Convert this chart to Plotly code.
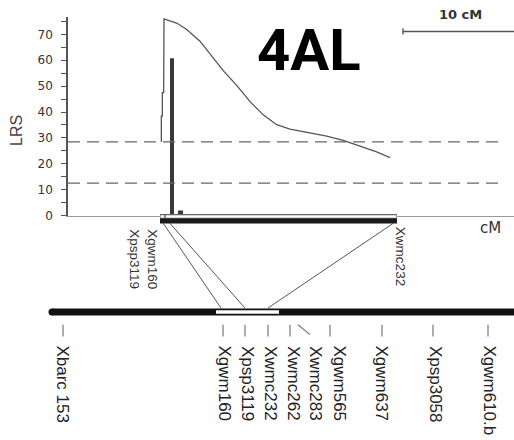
import plotly.graph_objects as go

# ---------------- data ----------------
# LRS profile along the 4AL QTL interval (cM on the QTL map)
lrs_cm = [0.12, 0.12, 0.21, 0.21, 0.33, 0.36, 1.50, 2.41, 3.60, 4.66, 5.70, 6.91, 8.11,
          9.30, 10.51, 11.71, 13.22, 15.02, 16.51, 18.31, 19.52, 20.72]
lrs_val = [28.5, 38.4, 38.4, 47.5, 47.5, 76.0, 74.4, 71.9, 67.4, 61.8, 56.0, 50.3, 44.0,
           38.9, 35.1, 33.4, 32.3, 30.7, 29.0, 26.2, 24.6, 22.4]

thresholds = [28.5, 12.5]          # LRS significance thresholds (dashed)

qtl_bar_cm = [1.08, 1.85]          # peak bars
qtl_bar_lrs = [60.8, 1.9]

top_markers = ["Xgwm160", "Xpsp3119", "Xwmc232"]
top_pos = [0.3, 0.9, 21.0]          # cM on QTL map
top_interval = [0.0, 21.35]

low_markers = ["Xbarc 153", "Xgwm160", "Xpsp3119", "Xwmc232", "Xwmc262", "Xwmc283",
               "Xgwm565", "Xgwm637", "Xpsp3058", "Xgwm610.b"]
low_pos = [0.0, 64.0, 72.8, 82.0, 90.8, 94.0, 106.8, 127.6, 148.0, 170.0]
low_interval = [61.2, 86.4]

scale_cm = 10
y_ticks = [0, 10, 20, 30, 40, 50, 60, 70]

# ---------------- layout geometry ----------------
W, H = 514, 440
TOP_PX0, TOP_PPC = 160.0, 11.1     # pixel of 0 cM, pixels per cM (upper map)
LOW_PX0, LOW_PPC = 63.0, 2.5       # lower consensus map
AX_LEFT, AX_TOP, AX_BOT = 68, 17, 219
LRS_PPU = 2.629

def t2l(cm):
    return (TOP_PX0 + TOP_PPC * cm - LOW_PX0) / LOW_PPC

def lpx(px):
    return (px - LOW_PX0) / LOW_PPC

def tpx(px):
    return (px - TOP_PX0) / TOP_PPC

x_rng = [tpx(AX_LEFT), tpx(W)]
y_rng = [0, (AX_BOT - AX_TOP) / LRS_PPU]

fig = go.Figure()

# dashed thresholds
for t in thresholds:
    fig.add_trace(go.Scatter(x=[tpx(AX_LEFT), tpx(500)], y=[t, t], mode="lines",
                             line=dict(color="#666", width=1.3, dash="12px,7px"),
                             xaxis="x", yaxis="y", hoverinfo="skip"))

# LRS curve
fig.add_trace(go.Scatter(x=lrs_cm, y=lrs_val, mode="lines",
                         line=dict(color="#555", width=1.3),
                         xaxis="x", yaxis="y"))

# QTL bars
fig.add_trace(go.Bar(x=qtl_bar_cm, y=qtl_bar_lrs, width=[4 / TOP_PPC, 5 / TOP_PPC],
                     marker=dict(color="#383838", line=dict(width=0)),
                     xaxis="x", yaxis="y"))

# scale bar (10 cM)
sb0 = tpx(403)
sy = (AX_BOT - 32) / LRS_PPU
fig.add_trace(go.Scatter(x=[sb0, sb0 + scale_cm, None, sb0, sb0],
                         y=[sy, sy, None, (AX_BOT - 29) / LRS_PPU, (AX_BOT - 35) / LRS_PPU],
                         mode="lines", line=dict(color="#555", width=1.4),
                         xaxis="x", yaxis="y", hoverinfo="skip"))

# upper map interval bar (x3 / y2)
i0, i1 = top_interval
fig.add_trace(go.Scatter(x=[i0, i1], y=[220, 220], mode="lines",
                         line=dict(color="#666", width=5), xaxis="x3", yaxis="y2"))
fig.add_trace(go.Scatter(x=[i0 + 0.05, i1 - 0.05], y=[220, 220], mode="lines",
                         line=dict(color="#fff", width=2.5), xaxis="x3", yaxis="y2"))
fig.add_trace(go.Scatter(x=[i0, i1], y=[224.5, 224.5], mode="lines",
                         line=dict(color="#1a1a1a", width=5), xaxis="x3", yaxis="y2"))
fig.add_trace(go.Scatter(x=[tpx(165), tpx(165)], y=[218, 222.5], mode="lines",
                         line=dict(color="#444", width=1.2), xaxis="x3", yaxis="y2"))

# connectors between maps
conn_x, conn_y = [], []
for name, cm in zip(top_markers, top_pos):
    lp = low_pos[low_markers.index(name)]
    if name == "Xgwm160":
        lp = lpx(221)
    conn_x += [t2l(cm), lp, None]
    conn_y += [227, 313, None]
fig.add_trace(go.Scatter(x=conn_x, y=conn_y, mode="lines",
                         line=dict(color="#555", width=1), xaxis="x2", yaxis="y2"))

# lower chromosome
fig.add_trace(go.Scatter(x=[lpx(52), lpx(W + 10)], y=[317, 317], mode="lines",
                         line=dict(color="#111", width=7), xaxis="x2", yaxis="y2"))
fig.add_trace(go.Scatter(x=[lpx(52)], y=[317], mode="markers",
                         marker=dict(color="#111", size=7, symbol="circle"),
                         xaxis="x2", yaxis="y2", cliponaxis=False))
fig.add_trace(go.Scatter(x=low_interval, y=[317, 317], mode="lines",
                         line=dict(color="#fff", width=3.5), xaxis="x2", yaxis="y2"))

# marker ticks
tx, ty = [], []
for name, p in zip(low_markers, low_pos):
    if name == "Xwmc283":
        tx += [p, p + 12 / LOW_PPC, None]
        ty += [330, 340, None]
    else:
        tx += [p, p, None]
        ty += [330, 342, None]
fig.add_trace(go.Scatter(x=tx, y=ty, mode="lines", line=dict(color="#777", width=1.2),
                         xaxis="x2", yaxis="y2"))

# ---------------- annotations ----------------
ann = []
label_off = {"Xbarc 153": 0, "Xgwm160": 2, "Xpsp3119": 2, "Xwmc232": 2, "Xwmc262": 3,
             "Xwmc283": 17, "Xgwm565": 10, "Xgwm637": 0, "Xpsp3058": 2, "Xgwm610.b": 2}
for name, p in zip(low_markers, low_pos):
    ann.append(dict(x=p + label_off[name] / LOW_PPC, y=349, xref="x2", yref="y2",
                    text=name, textangle=90, showarrow=False, xanchor="center",
                    yanchor="top", font=dict(family="Liberation Sans, Arial", size=17,
                                             color="#222")))

top_lab = {"Xgwm160": (153, 231), "Xpsp3119": (135, 231), "Xwmc232": (400, 228)}
for name in top_markers:
    px, py = top_lab[name]
    ann.append(dict(x=tpx(px), y=py, xref="x3", yref="y2", text=name, textangle=90,
                    showarrow=False, xanchor="center", yanchor="top",
                    font=dict(family="Liberation Sans, Arial", size=13.5, color="#333")))

def paper(px, py):
    return px / W, 1 - py / H

for text, (px, py), font in [
    ("<b>4AL</b>", (309, 51), dict(family="Roboto, Liberation Sans", size=58, color="#000")),
    ("<b>10 cM</b>", (460, 15), dict(family="DejaVu Sans", size=13, color="#333")),
    ("cM", (490, 232), dict(family="DejaVu Sans", size=15, color="#333")),
]:
    x, y = paper(px, py)
    ann.append(dict(x=x, y=y, xref="paper", yref="paper", text=text, showarrow=False,
                    xanchor="center", yanchor="middle", font=font))

x, y = paper(17, 133)
ann.append(dict(x=x, y=y, xref="paper", yref="paper", text="LRS", textangle=-90,
                showarrow=False, xanchor="center", yanchor="middle",
                font=dict(family="Liberation Sans, Arial", size=16, color="#444")))

fig.update_layout(
    width=W, height=H, margin=dict(l=0, r=0, t=0, b=0),
    paper_bgcolor="white", plot_bgcolor="rgba(0,0,0,0)",
    showlegend=False, annotations=ann,
    xaxis=dict(domain=[AX_LEFT / W, 1], range=x_rng, showline=True, linecolor="#999",
               linewidth=1, showticklabels=False, ticks="", showgrid=False,
               zeroline=False, fixedrange=True),
    yaxis=dict(domain=[1 - AX_BOT / H, 1 - AX_TOP / H], range=y_rng, showline=True,
               linecolor="#555", linewidth=1.5, ticks="outside", ticklen=5,
               tickcolor="#555", tickvals=y_ticks, ticklabelstandoff=6,
               tickfont=dict(family="DejaVu Sans", size=12, color="#333"),
               minor=dict(dtick=5, ticks="outside", ticklen=5, tickcolor="#555"),
               showgrid=False, zeroline=False, fixedrange=True, anchor="x"),
    xaxis2=dict(domain=[0, 1], range=[lpx(0), lpx(W)], visible=False, anchor="y2"),
    yaxis2=dict(domain=[0, 1 - 210 / H], range=[H, 210], visible=False, anchor="x2"),
    xaxis3=dict(domain=[AX_LEFT / W, 1], range=x_rng, visible=False, anchor="y2"),
)

fig.write_html("out.html", config={"displayModeBar": False},
               post_script="document.body.style.margin='0';document.body.style.overflow='hidden';")
